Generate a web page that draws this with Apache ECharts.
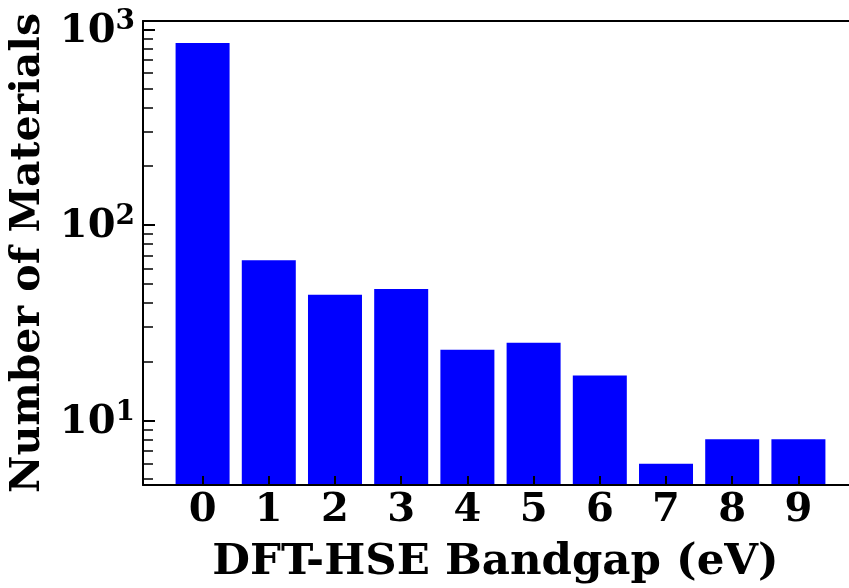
<!DOCTYPE html>
<html>
<head>
<meta charset="utf-8">
<script src="https://cdn.jsdelivr.net/npm/echarts@6/dist/echarts.min.js"></script>
<style>
  html, body { margin: 0; padding: 0; background: #fff; }
  #chart { width: 849px; height: 588px; }
</style>
</head>
<body>
<div id="chart"></div>
<script>
// Bandgap bins (eV) and the number of materials in each bin
const bandgaps = [0, 1, 2, 3, 4, 5, 6, 7, 8, 9];
const counts = [854, 66, 44, 47, 23, 25, 17, 6, 8, 8];

// Log-axis tick values
const majorTicks = [10, 100, 1000];
const minorTicks = [5, 6, 7, 8, 9, 20, 30, 40, 50, 60, 70, 80, 90,
                    200, 300, 400, 500, 600, 700, 800, 900];

const FONT = 'DejaVu Serif';

const chart = echarts.init(document.getElementById('chart'), null, { renderer: 'canvas' });

const xRange = { min: -0.9, max: 9.9 };

const yBase = {
  type: 'log',
  logBase: 10,
  min: 4.67,
  max: 1108,
  position: 'left',
  offset: 0,
  splitLine: { show: false }
};

chart.setOption({
  animation: false,
  backgroundColor: '#ffffff',
  grid: { left: 143, top: 21, width: 715, height: 464, outerBoundsMode: 'none', containLabel: false },
  xAxis: [
    Object.assign({
      type: 'value',
      position: 'bottom',
      z: 5,
      name: 'DFT-HSE Bandgap (eV)',
      nameLocation: 'middle',
      nameGap: 56,
      nameTextStyle: { fontFamily: FONT, fontWeight: 'bold', fontSize: 43.5, color: '#000', padding: [0, 10, 0, 0] },
      splitLine: { show: false },
      axisLine: { show: true, onZero: false, lineStyle: { color: '#000', width: 2 } },
      axisTick: { show: true, inside: true, length: 9, lineStyle: { color: '#000', width: 2 }, customValues: bandgaps },
      axisLabel: {
        customValues: bandgaps,
        margin: 6,
        fontFamily: FONT, fontWeight: 'bold', fontSize: 40, color: '#000'
      }
    }, xRange),
    // top spine
    Object.assign({
      type: 'value',
      position: 'top',
      z: 5,
      splitLine: { show: false },
      axisLine: { show: true, onZero: false, lineStyle: { color: '#000', width: 2 } },
      axisTick: { show: false },
      axisLabel: { show: false }
    }, xRange)
  ],
  yAxis: [
    Object.assign({}, yBase, {
      z: 5,
      name: 'Number of Materials',
      nameLocation: 'middle',
      nameGap: 77,
      nameTextStyle: { fontFamily: FONT, fontWeight: 'bold', fontSize: 41, color: '#000' },
      axisLine: { show: true, onZero: false, lineStyle: { color: '#000', width: 2 } },
      axisTick: { show: true, inside: true, length: 12, lineStyle: { color: '#000', width: 2 }, customValues: majorTicks },
      axisLabel: {
        customValues: majorTicks,
        margin: 8,
        formatter: function (v) {
          const e = Math.round(Math.log10(v));
          return '{b|10}{s|' + e + '}';
        },
        rich: {
          b: { fontFamily: FONT, fontWeight: 'bold', fontSize: 40, color: '#000', lineHeight: 44, verticalAlign: 'bottom' },
          s: { fontFamily: FONT, fontWeight: 'bold', fontSize: 28, color: '#000', lineHeight: 44, verticalAlign: 'top' }
        }
      }
    }),
    Object.assign({}, yBase, {
      z: 5,
      axisLine: { show: false, onZero: false },
      axisTick: { show: true, inside: true, length: 10, lineStyle: { color: '#000', width: 1.5 }, customValues: minorTicks },
      axisLabel: { show: false }
    })
  ],
  series: [{
    type: 'bar',
    xAxisIndex: 0,
    yAxisIndex: 0,
    barWidth: 54,
    itemStyle: { color: '#0000ff' },
    data: bandgaps.map((b, i) => [b, counts[i]])
  }]
});
</script>
</body>
</html>
